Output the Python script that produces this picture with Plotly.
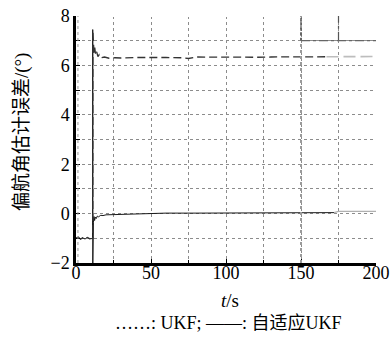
import plotly.graph_objects as go

# Yaw-angle estimation error, standard UKF vs adaptive UKF
ukf_t = [0, 1.5, 3, 4.5, 6, 7.5, 9, 10.5, 11.2, 11.25, 11.6, 12.0, 12.5, 13.1, 13.8, 14.6,
         15.5, 17, 19, 22, 26, 30, 40, 50, 60, 70, 75, 80, 90, 100, 110, 120, 130, 140,
         150, 160, 167, 175, 185, 200]
ukf_v = [-1.0, -0.96, -1.03, -0.98, -1.02, -0.97, -1.01, -1.0, -1.0, 7.4, 6.85, 6.5, 6.72,
         6.42, 6.55, 6.36, 6.44, 6.31, 6.34, 6.29, 6.31, 6.3, 6.32, 6.33, 6.32, 6.31, 6.28,
         6.34, 6.33, 6.33, 6.34, 6.33, 6.34, 6.34, 6.35, 6.35, 6.35, 6.36, 6.36, 6.36]

ada_t = [0, 1.5, 3, 4.5, 6, 7.5, 9, 10.5, 11.1, 11.15, 11.2, 11.3, 11.6, 12.0, 12.4, 12.9,
         13.5, 14.2, 15, 16.5, 18, 20, 25, 30, 40, 50, 55, 60, 80, 100, 120, 150, 172,
         175, 185, 200]
ada_v = [-1.0, -0.95, -1.04, -0.98, -1.03, -0.97, -1.02, -1.0, -1.0, 7.45, -2.0, 0.3, -0.35,
         -0.12, -0.28, -0.14, -0.2, -0.1, -0.13, -0.07, -0.08, -0.05, -0.04, -0.03, -0.03,
         -0.02, 0.0, 0.02, 0.02, 0.03, 0.03, 0.04, 0.04, 0.09, 0.09, 0.09]

ukf_fade = 167
ada_fade = 172

x_ticks = [0, 50, 100, 150, 200]
y_ticks = [-2, 0, 2, 4, 6, 8]

SERIF = "Liberation Serif, Times New Roman, serif"
CJK = "Liberation Serif, Noto Sans CJK SC, serif"


def split(t, v, cut):
    a = [(ti, vi) for ti, vi in zip(t, v) if ti <= cut]
    b = [(ti, vi) for ti, vi in zip(t, v) if ti >= cut]
    return a, b


fig = go.Figure()

u_a, u_b = split(ukf_t, ukf_v, ukf_fade)
a_a, a_b = split(ada_t, ada_v, ada_fade)

fig.add_trace(go.Scatter(x=[p[0] for p in a_a], y=[p[1] for p in a_a], mode="lines",
                         line=dict(color="#1a1a1a", width=1)))
fig.add_trace(go.Scatter(x=[p[0] for p in a_b], y=[p[1] for p in a_b], mode="lines",
                         line=dict(color="#b0b0b0", width=1.2)))
fig.add_trace(go.Scatter(x=[p[0] for p in u_a], y=[p[1] for p in u_a], mode="lines",
                         line=dict(color="#333333", width=1.3, dash="8px,4px")))
fig.add_trace(go.Scatter(x=[p[0] for p in u_b], y=[p[1] for p in u_b], mode="lines",
                         line=dict(color="#bdbdbd", width=1.6, dash="12px,5px")))

grid = dict(showgrid=True, gridcolor="#8c8c8c", griddash="dot", gridwidth=1)

fig.update_xaxes(range=[0, 200], tickvals=x_ticks, ticks="inside", ticklen=4,
                 tickcolor="black", showline=True, linecolor="black", linewidth=2.5,
                 zeroline=False, automargin=False, ticklabelstandoff=-8,
                 tickfont=dict(family=SERIF, size=18, color="black"),
                 minor=dict(dtick=25, ticks="inside", ticklen=3, tickcolor="black", **grid),
                 **grid)
fig.update_yaxes(range=[-2, 8], tickvals=y_ticks, ticks="inside", ticklen=4,
                 tickcolor="black", showline=True, linecolor="black", linewidth=2.5,
                 zeroline=False, automargin=False,
                 tickfont=dict(family=SERIF, size=18, color="black"),
                 minor=dict(dtick=1, ticks="inside", ticklen=4, tickcolor="black", **grid),
                 **grid)

# The frame is open on the top and right: mask the edge gridlines there
fig.add_shape(type="line", x0=0, x1=200, y0=8, y1=8, xref="x", yref="y", layer="between",
              line=dict(color="white", width=2))
fig.add_shape(type="line", x0=200, x1=200, y0=-2, y1=8, xref="x", yref="y", layer="between",
              line=dict(color="white", width=2))

# Frame remnants in the upper-right corner and the dense dotted line by the y-axis
fig.add_shape(type="line", x0=1.3, x1=1.3, y0=-2, y1=8, xref="x", yref="y",
              line=dict(color="#9a9a9a", width=1, dash="dot"))
fig.add_shape(type="line", x0=150, x1=150, y0=-2, y1=8, xref="x", yref="y",
              line=dict(color="#9a9a9a", width=2, dash="dot"))
fig.add_shape(type="line", x0=150, x1=150, y0=7, y1=8, xref="x", yref="y",
              line=dict(color="#555555", width=1.5, dash="3px,2px"))
fig.add_shape(type="line", x0=175, x1=175, y0=7, y1=8, xref="x", yref="y",
              line=dict(color="#555555", width=1.2, dash="dashdot"))
fig.add_shape(type="line", x0=150, x1=202, y0=7, y1=7, xref="x", yref="y",
              line=dict(color="#666666", width=1.2, dash="dashdot"))

fig.add_annotation(text="偏航角估计误差/(°)", xref="paper", yref="paper",
                   x=-0.18, y=0.53, xanchor="center", yanchor="middle",
                   textangle=-90, showarrow=False,
                   font=dict(family=CJK, size=19, color="black"))
fig.add_annotation(text="<i>t</i>/s", xref="paper", yref="paper",
                   x=0.513, y=-0.15, xanchor="center", yanchor="middle", showarrow=False,
                   font=dict(family=SERIF, size=19, color="black"))
fig.add_annotation(text="……: UKF; ——: 自适应UKF", xref="paper", yref="paper",
                   x=0.507, y=-0.243, xanchor="center", yanchor="middle", showarrow=False,
                   font=dict(family=CJK, size=18, color="black"))

fig.update_layout(width=392, height=337, margin=dict(l=76, r=16, t=16, b=74),
                  paper_bgcolor="white", plot_bgcolor="white", showlegend=False)

fig.write_html("out.html")
